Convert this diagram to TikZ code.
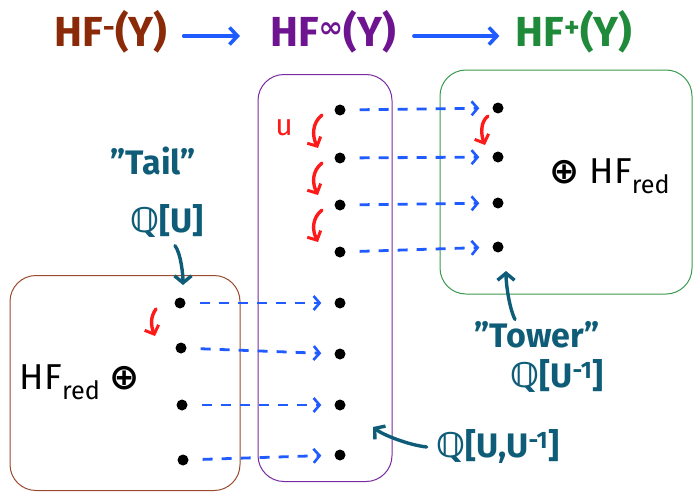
\documentclass[tikz,border=0pt]{standalone}
\usepackage{fontspec}
\setmainfont{Fira Sans}
\newfontfamily\dejavu{DejaVu Sans}
\usetikzlibrary{arrows.meta,calc}
\definecolor{tbrown}{HTML}{8A2A08}
\definecolor{bbrown}{HTML}{9A4A2E}
\definecolor{tpurple}{HTML}{6E1490}
\definecolor{bpurple}{HTML}{7A2AA0}
\definecolor{tgreen}{HTML}{1E8A3A}
\definecolor{bgreen}{HTML}{3A9A50}
\definecolor{tteal}{HTML}{0E5C78}
\definecolor{tblue}{HTML}{1F5BFF}
\definecolor{tred}{HTML}{FF1A1A}
\newcommand{\QQ}{{\dejavu\bfseries ℚ}}
\tikzset{
  title/.style={font=\bfseries\fontsize{42}{46}\selectfont, inner sep=0pt},
  lbl/.style={font=\bfseries\fontsize{34}{38}\selectfont, text=tteal, inner sep=0pt},
  blk/.style={font=\fontsize{36}{40}\selectfont, inner sep=0pt},
  dot/.style={circle, fill=black, inner sep=0pt, minimum size=11pt},
  box/.style={rounded corners=26pt, line width=1pt},
  titlearr/.style={draw=tblue, line width=3.8pt, line cap=round, -{Straight Barb[length=8pt,width=17pt,line width=3.6pt]}},
  blarr/.style={draw=tblue, line width=2.8pt, dash pattern=on 10pt off 9pt, -{Straight Barb[length=6pt,width=14pt,line width=2.6pt]}, shorten <=14pt, shorten >=13pt},
  redarr/.style={draw=tred, line width=3.4pt, line cap=round, -{Straight Barb[length=7pt,width=15pt,line width=3pt]}},
  tealarr/.style={draw=tteal, line width=3.4pt, line cap=round, -{Straight Barb[length=7pt,width=17pt,line width=3.4pt]}}
}
\begin{document}
\begin{tikzpicture}[x=1pt,y=-1pt]
\useasboundingbox (0,0) rectangle (695,495);
% titles
\node[title, text=tbrown] (t1) at (111,32) {HF\textsuperscript{-}(Y)};
\node[title, text=tpurple] (t2) at (333,32) {HF\textsuperscript{\dejavu\bfseries ∞}(Y)};
\node[title, text=tgreen] (t3) at (574,32) {HF\textsuperscript{+}(Y)};
\draw[titlearr] ($(t1.east)+(16,4)$) -- ($(t2.west)+(-30,4)$);
\draw[titlearr] ($(t2.east)+(18,4)$) -- ($(t3.west)+(-16,4)$);
% boxes
\node[box, draw=bpurple, minimum width=134pt, minimum height=407pt] (bp) at (325,278) {};
\node[box, draw=bgreen, minimum width=252pt, minimum height=224pt] (bg) at (566,182) {};
\node[box, draw=bbrown, minimum width=230pt, minimum height=215pt] (bb) at (125,383) {};
% dots
\foreach \i/\y in {1/110,2/158,3/205,4/252,5/303,6/354,7/405,8/455}
  \node[dot] (p\i) at (340,\y) {};
\foreach \i/\y in {1/108,2/157,3/203,4/247}
  \node[dot] (g\i) at (498,\y) {};
\node[dot] (b1) at (180,303) {};
\node[dot] (b2) at (181,348) {};
\node[dot] (b3) at (182,405) {};
\node[dot] (b4) at (183,460) {};
% dashed maps
\foreach \i in {1,2,3,4} \draw[blarr] (p\i) -- (g\i);
\foreach \i/\j in {1/5,2/6,3/7,4/8} \draw[blarr] (b\i) -- (p\j);
% U actions
\node[font=\fontsize{30}{32}\selectfont, text=tred, inner sep=0pt] (u) at (284,128) {u};
\foreach \i/\j in {1/2,2/3,3/4}
  \draw[redarr] ($(p\i)+(-18,5)$) .. controls +(-10,8) and +(-6,-12) .. ($(p\j)+(-22,-10)$);
\draw[redarr] ($(g1)+(-10,8)$) .. controls +(-8,6) and +(-4,-10) .. ($(g2)+(-13,-12)$);
\draw[redarr] ($(b1)+(-24,6)$) .. controls +(-6,8) and +(-4,-10) .. ($(b2)+(-26,-12)$);
% HF red
\node[blk] (hr) at (610,176) {{\dejavu\bfseries ⊕} HF\textsubscript{red}};
\node[blk] (hl) at (80,382) {HF\textsubscript{red} {\dejavu\bfseries ⊕}};
% teal labels
\node[lbl] (tail) at (153,161) {"Tail"};
\node[lbl] (qu) at (167,221) {\QQ[U]};
\node[lbl] (tower) at (537,335) {"Tower"};
\node[lbl] (qui) at (557,376) {\QQ[U\textsuperscript{-1}]};
\node[lbl] (quu) at (498,447) {\QQ[U,U\textsuperscript{-1}]};
\draw[tealarr] ($(qu.south)+(8,8)$) .. controls +(6,8) and +(0,-10) .. ($(b1)+(3,-18)$);
\draw[tealarr] ($(tower.north)+(-22,-2)$) .. controls +(-6,-12) and +(0,12) .. ($(g4)+(8,24)$);
\draw[tealarr] ($(quu.west)+(-10,0)$) .. controls +(-18,-2) and +(10,8) .. ($(p7)+(33,22)$);
\end{tikzpicture}
\end{document}
